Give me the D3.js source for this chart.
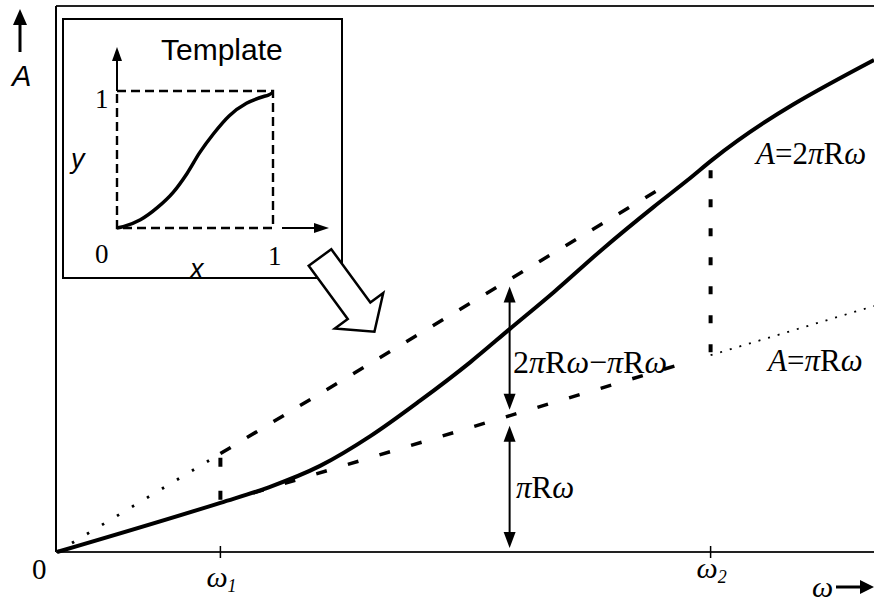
<!DOCTYPE html>
<html>
<head>
<meta charset="utf-8">
<script src="https://cdn.jsdelivr.net/npm/d3@7"></script>
<style>
body { margin: 0; background: #fff; }
svg { display: block; }
.serif { font-family: "Liberation Serif", "Times New Roman", serif; }
.sans { font-family: "Liberation Sans", Arial, sans-serif; }
</style>
</head>
<body>
<svg id="chart" width="874" height="603"></svg>
<script>
// main curve, A in units of pi*R
var solidOmega = [0, 1, 1.3, 1.61, 1.92, 2.22, 2.53, 2.77, 3.04, 3.34, 3.65, 3.86, 4.01, 5];
var solidA     = [0, 1, 1.32, 1.75, 2.36, 3.07, 3.86, 4.53, 5.28, 6.16, 7.01, 7.56, 7.97, 10];

// straight guide lines A = k * pi*R*omega, with their drawn ranges
var upperDotted = [0, 1];
var upperDashed = [1, 3.7];
var lowerDashed = [1.2, 3.9];
var lowerDotted = [4, 5];

var omegaMarks = [1, 4];
var omegaSubs = ["1", "2"];
var arrowOmega = 2.77;

// template inset curve
var templateX = [0, 0.04, 0.15, 0.26, 0.36, 0.45, 0.53, 0.62, 0.72, 0.83, 0.94, 0.97, 1];
var templateY = [0, 0.01, 0.06, 0.15, 0.26, 0.40, 0.55, 0.69, 0.82, 0.91, 0.96, 0.97, 0.99];

var svg = d3.select("#chart");

var x = d3.scaleLinear().domain([0, 5]).range([57, 874]);
var y = d3.scaleLinear().domain([0, 10]).range([552, 60]);

var ix = d3.scaleLinear().domain([0, 1]).range([117, 273]);
var iy = d3.scaleLinear().domain([0, 1]).range([228, 91]);

drawFrame();
drawGuides();
drawCurve();
drawVerticalArrows();
drawLabels();
drawInset();
drawBigArrow();

function arrowHead(g, px, py, dir, w, len) {
    var pts;
    if (dir == "up") pts = [[px, py], [px - w / 2, py + len], [px + w / 2, py + len]];
    if (dir == "down") pts = [[px, py], [px - w / 2, py - len], [px + w / 2, py - len]];
    if (dir == "right") pts = [[px, py], [px - len, py - w / 2], [px - len, py + w / 2]];
    g.append("path")
        .attr("d", "M" + pts.join("L") + "Z")
        .attr("fill", "#000");
}

function drawFrame() {
    var top = y(11.1);
    svg.append("line")
        .attr("x1", x(0) - 1).attr("y1", top)
        .attr("x2", x(5)).attr("y2", top)
        .attr("stroke", "#222").attr("stroke-width", 2);
    svg.append("line")
        .attr("x1", x(0) - 1).attr("y1", top)
        .attr("x2", x(0) - 1).attr("y2", y(0))
        .attr("stroke", "#000").attr("stroke-width", 2);
    svg.append("line")
        .attr("x1", x(0) - 1).attr("y1", y(0))
        .attr("x2", x(5)).attr("y2", y(0))
        .attr("stroke", "#222").attr("stroke-width", 2);

    omegaMarks.forEach(function(w) {
        svg.append("line")
            .attr("x1", x(w)).attr("y1", y(0) - 6)
            .attr("x2", x(w)).attr("y2", y(0) + 6)
            .attr("stroke", "#000").attr("stroke-width", 1.5);
    });

    // A arrow on the left
    svg.append("line")
        .attr("x1", 20).attr("y1", 52).attr("x2", 20).attr("y2", 20)
        .attr("stroke", "#000").attr("stroke-width", 3);
    arrowHead(svg, 20, 9, "up", 14, 16);

    // omega arrow bottom right
    svg.append("line")
        .attr("x1", 836).attr("y1", 587).attr("x2", 862).attr("y2", 587)
        .attr("stroke", "#000").attr("stroke-width", 3);
    arrowHead(svg, 874, 587, "right", 14, 14);
}

function guide(range, k, dash, width) {
    svg.append("line")
        .attr("x1", x(range[0])).attr("y1", y(k * range[0]))
        .attr("x2", x(range[1])).attr("y2", y(k * range[1]))
        .attr("stroke", "#000")
        .attr("stroke-width", width)
        .attr("stroke-dasharray", dash);
}

function drawGuides() {
    guide(upperDotted, 2, "2.5,15", 2.8);
    guide(upperDashed, 2, "12,19", 3.5);
    guide(lowerDashed, 1, "11,22", 3.5);
    guide(lowerDotted, 1, "2,8", 1.8);

    omegaMarks.forEach(function(w) {
        svg.append("line")
            .attr("x1", x(w)).attr("y1", y(w) - 3)
            .attr("x2", x(w)).attr("y2", y(2 * w) + 2)
            .attr("stroke", "#000")
            .attr("stroke-width", 4)
            .attr("stroke-dasharray", w == 1 ? "9,24" : "8,21");
    });
}

function drawCurve() {
    var pts = solidOmega.map(function(w, i) { return [w, solidA[i]]; });
    var line = d3.line()
        .x(function(d) { return x(d[0]); })
        .y(function(d) { return y(d[1]); })
        .curve(d3.curveMonotoneX);
    svg.append("path")
        .attr("d", line(pts))
        .attr("fill", "none")
        .attr("stroke", "#000")
        .attr("stroke-width", 4);
}

function drawVerticalArrows() {
    var ax = x(arrowOmega);
    var segs = [[y(2 * arrowOmega) + 7, y(arrowOmega) - 6], [y(arrowOmega) + 10, y(0) - 4]];
    segs.forEach(function(s) {
        svg.append("line")
            .attr("x1", ax).attr("y1", s[0] + 12)
            .attr("x2", ax).attr("y2", s[1] - 12)
            .attr("stroke", "#000").attr("stroke-width", 2);
        arrowHead(svg, ax, s[0], "up", 12, 16);
        arrowHead(svg, ax, s[1], "down", 12, 16);
    });
}

function mathText(px, py, parts, size) {
    var t = svg.append("text")
        .attr("class", "serif")
        .attr("x", px).attr("y", py)
        .attr("font-size", size);
    parts.forEach(function(p) {
        var s = t.append("tspan").text(p[0]);
        if (p[1]) s.attr("font-style", "italic");
        if (p[2]) s.attr("font-size", size * 0.6).attr("dy", 5);
    });
    return t;
}

function drawLabels() {
    mathText(513, 373, [["2"], ["\u03C0", 1], ["R"], ["\u03C9", 1], ["\u2212"], ["\u03C0", 1], ["R"], ["\u03C9", 1]], 32);
    mathText(516, 498, [["\u03C0", 1], ["R"], ["\u03C9", 1]], 31);
    mathText(756, 164, [["A", 1], ["="], ["2"], ["\u03C0", 1], ["R"], ["\u03C9", 1]], 31);
    mathText(768, 371, [["A", 1], ["="], ["\u03C0", 1], ["R"], ["\u03C9", 1]], 31);
    mathText(32, 579, [["0"]], 29);

    omegaMarks.forEach(function(w, i) {
        mathText(x(w) - 14, i == 0 ? 587 : 578, [["\u03C9", 1], [omegaSubs[i], 1, 1]], 30);
    });
    mathText(812, 597, [["\u03C9", 1]], 30);

    svg.append("text")
        .attr("class", "sans")
        .attr("x", 12).attr("y", 86)
        .attr("font-size", 29)
        .attr("font-style", "italic")
        .text("A");
}

function drawInset() {
    var g = svg.append("g");
    g.append("rect")
        .attr("x", 63).attr("y", 19)
        .attr("width", 279).attr("height", 259)
        .attr("fill", "#fff")
        .attr("stroke", "#000").attr("stroke-width", 2);

    g.append("text")
        .attr("class", "sans")
        .attr("x", 161).attr("y", 60)
        .attr("font-size", 30)
        .text("Template");

    // axes, solid only outside the dashed unit square
    g.append("line")
        .attr("x1", ix(0)).attr("y1", iy(1))
        .attr("x2", ix(0)).attr("y2", 60)
        .attr("stroke", "#000").attr("stroke-width", 2);
    arrowHead(g, ix(0), 47, "up", 10, 14);
    g.append("line")
        .attr("x1", ix(1) + 9).attr("y1", iy(0))
        .attr("x2", 315).attr("y2", iy(0))
        .attr("stroke", "#000").attr("stroke-width", 2);
    arrowHead(g, 329, iy(0), "right", 10, 15);

    g.append("rect")
        .attr("x", ix(0)).attr("y", iy(1))
        .attr("width", ix(1) - ix(0)).attr("height", iy(0) - iy(1))
        .attr("fill", "none")
        .attr("stroke", "#000").attr("stroke-width", 2.4)
        .attr("stroke-dasharray", "9,5");

    var pts = templateX.map(function(v, i) { return [v, templateY[i]]; });
    var line = d3.line()
        .x(function(d) { return ix(d[0]); })
        .y(function(d) { return iy(d[1]); })
        .curve(d3.curveMonotoneX);
    g.append("path")
        .attr("d", line(pts))
        .attr("fill", "none")
        .attr("stroke", "#000").attr("stroke-width", 3.5);

    g.append("text").attr("class", "serif").attr("x", 95).attr("y", 108).attr("font-size", 27).text("1");
    g.append("text").attr("class", "serif").attr("x", 95).attr("y", 263).attr("font-size", 27).text("0");
    g.append("text").attr("class", "serif").attr("x", 268).attr("y", 265).attr("font-size", 27).text("1");
    g.append("text").attr("class", "sans").attr("x", 71).attr("y", 168)
        .attr("font-size", 27).attr("font-style", "italic").text("y");
    g.append("text").attr("class", "sans").attr("x", 190).attr("y", 278)
        .attr("font-size", 27).attr("font-style", "italic").text("x");
}

function drawBigArrow() {
    // hollow block arrow pointing from the inset to the curve
    var sx = 320, sy = 257.5;
    var ang = Math.atan2(54.5, 40);
    var shaft = 66, half = 14, head = 30, tip = 26;
    var shape = [
        [0, -half], [shaft, -half], [shaft, -head], [shaft + tip, 0],
        [shaft, head], [shaft, half], [0, half]
    ].map(function(p) {
        return [sx + p[0] * Math.cos(ang) - p[1] * Math.sin(ang),
                sy + p[0] * Math.sin(ang) + p[1] * Math.cos(ang)];
    });
    svg.append("path")
        .attr("d", "M" + shape.join("L") + "Z")
        .attr("fill", "#fff")
        .attr("stroke", "#000").attr("stroke-width", 2.5)
        .attr("stroke-linejoin", "miter");
}
</script>
</body>
</html>
